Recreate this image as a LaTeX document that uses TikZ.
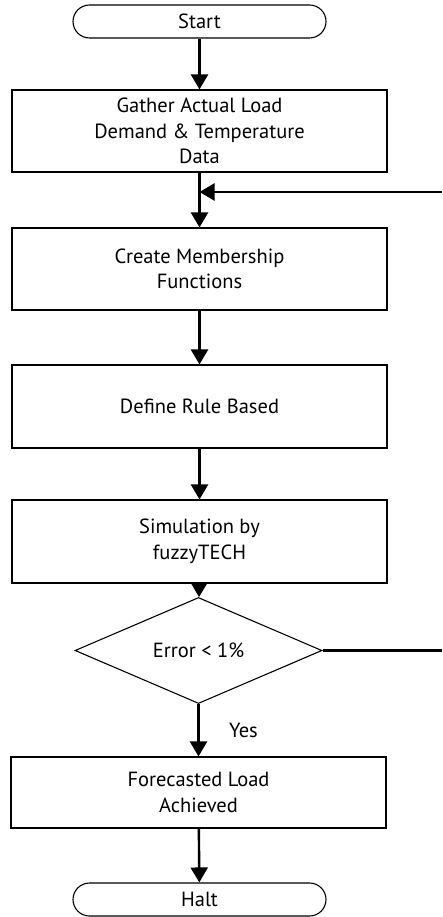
\documentclass[tikz,border=0pt]{standalone}
\usepackage{fontspec}
\setmainfont{PT Sans}
\usetikzlibrary{shapes.geometric,arrows.meta}

\begin{document}
\begin{tikzpicture}[x=1pt,y=-1pt,
	font=\fontsize{20.5}{25.5}\selectfont,
	procbox/.style={draw,line width=1.1pt,minimum width=375pt,align=center,inner sep=0pt},
	termbox/.style={draw,line width=1.1pt,rounded corners=16.5pt,minimum width=253pt,minimum height=33pt,inner sep=0pt},
	decbox/.style={draw,diamond,line width=1.1pt,minimum width=247pt,minimum height=106pt,inner sep=0pt},
	flow/.style={line width=2.4pt,-{Triangle[width=17pt,length=15pt]}},
	fbline/.style={line width=2.4pt}]
	\useasboundingbox (0,0) rectangle (442,917);

	% main column
	\node[termbox] (start) at (199.5,21.5) {Start};
	\node[procbox,minimum height=82pt] (gather) at (199.5,131) {Gather Actual Load\\Demand \& Temperature\\Data};
	\node[procbox,minimum height=82pt] (member) at (199.5,269) {Create Membership\\Functions};
	\node[procbox,minimum height=83pt] (rule) at (199.5,406.5) {Define Rule Based};
	\node[procbox,minimum height=83pt] (simul) at (199.5,541.5) {Simulation by\\fuzzyTECH};
	\node[decbox] (err) at (198.5,650.5) {Error < 1\%};
	\node[procbox,minimum height=71pt] (fcast) at (198.5,792.5) {Forecasted Load\\Achieved};
	\node[termbox] (halt) at (199.5,899.5) {Halt};

	\draw[flow] (start) -- (gather);
	\draw[flow] (gather) -- (member);
	\draw[flow] (member) -- (rule);
	\draw[flow] (rule) -- (simul);
	\draw[flow] (simul) -- (err);
	\draw[flow] (err) -- node[right=26pt] (yes) {Yes} (fcast);
	\draw[flow] (fcast) -- (halt);

	% loop back (cut at right edge)
	\coordinate (fbout) at (442,650.5);
	\coordinate (fbin) at (442,192);
	\draw[fbline] (err.east) -- (fbout);
	\draw[flow] (fbin) -- (gather.south |- fbin);
\end{tikzpicture}
\end{document}
